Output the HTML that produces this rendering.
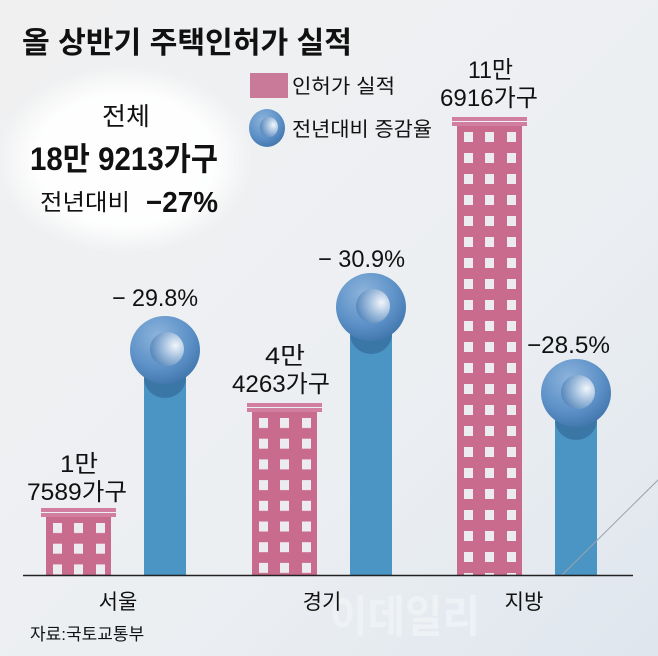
<!DOCTYPE html>
<html><head><meta charset="utf-8"><style>
html,body{margin:0;padding:0}
body{width:658px;height:656px;overflow:hidden;background:#eef0f2}
svg{display:block}
text{font-family:"Liberation Sans","Noto Sans CJK KR",sans-serif;fill:#111}
</style></head><body>
<svg width="658" height="656" viewBox="0 0 658 656" xmlns="http://www.w3.org/2000/svg">
<defs>
<linearGradient id="bg" x1="0" y1="0" x2="1" y2="1">
<stop offset="0" stop-color="#f0f0f1"/><stop offset="0.6" stop-color="#eceff2"/><stop offset="1" stop-color="#dfe6ee"/>
</linearGradient>
<radialGradient id="glow" cx="0.5" cy="0.5" r="0.5">
<stop offset="0" stop-color="#fff"/><stop offset="0.7" stop-color="#fff" stop-opacity="0.9"/><stop offset="1" stop-color="#fff" stop-opacity="0"/>
</radialGradient>
<radialGradient id="ring" cx="0.4" cy="0.3" r="0.75">
<stop offset="0" stop-color="#8db4dc"/><stop offset="0.6" stop-color="#5e92c8"/><stop offset="1" stop-color="#3f74aa"/>
</radialGradient>
<radialGradient id="inner" cx="0.75" cy="0.4" r="0.8">
<stop offset="0" stop-color="#f2f6fb"/><stop offset="0.45" stop-color="#a4c0de"/><stop offset="1" stop-color="#4f82b8"/>
</radialGradient>
<pattern id="w1" patternUnits="userSpaceOnUse" x="46" y="523" width="65" height="20.7"><rect x="7" y="0" width="9" height="10" fill="#ecebef"/><rect x="28" y="0" width="9" height="10" fill="#ecebef"/><rect x="50" y="0" width="9" height="10" fill="#ecebef"/></pattern>
<pattern id="w2" patternUnits="userSpaceOnUse" x="252" y="418" width="65" height="20.7"><rect x="7" y="0" width="9" height="10" fill="#ecebef"/><rect x="28" y="0" width="9" height="10" fill="#ecebef"/><rect x="50" y="0" width="9" height="10" fill="#ecebef"/></pattern>
<pattern id="w3" patternUnits="userSpaceOnUse" x="457" y="132" width="65" height="21" ><rect x="7" y="0" width="9" height="10" fill="#ecebef"/><rect x="28" y="0" width="9" height="10" fill="#ecebef"/><rect x="50" y="0" width="9" height="10" fill="#ecebef"/></pattern>
</defs>
<rect width="658" height="656" fill="url(#bg)"/>
<ellipse cx="125" cy="160" rx="130" ry="95" fill="url(#glow)"/>
<text x="330" y="632" font-size="44" font-weight="bold" style="fill:#f3f5f8" opacity="0.7" textLength="150" lengthAdjust="spacingAndGlyphs">이데일리</text>

<text x="22" y="53" font-size="30" font-weight="bold" textLength="330" lengthAdjust="spacingAndGlyphs">올 상반기 주택인허가 실적</text>

<rect x="250" y="73" width="38" height="25" fill="#c97a98"/>
<text x="292" y="93" font-size="20" textLength="103" lengthAdjust="spacingAndGlyphs">인허가 실적</text>
<ellipse cx="267" cy="128" rx="18" ry="19" fill="url(#ring)"/>
<ellipse cx="269" cy="127" rx="9" ry="10" fill="url(#inner)"/>
<text x="292" y="136" font-size="20" textLength="140" lengthAdjust="spacingAndGlyphs">전년대비 증감율</text>

<text x="102" y="125" font-size="25" textLength="48" lengthAdjust="spacingAndGlyphs">전체</text>
<text x="30" y="170" font-size="32" font-weight="bold" textLength="188" lengthAdjust="spacingAndGlyphs">18만 9213가구</text>
<text x="40" y="210" font-size="23" textLength="90" lengthAdjust="spacingAndGlyphs">전년대비</text>
<text x="146" y="212" font-size="29" font-weight="bold" textLength="72" lengthAdjust="spacingAndGlyphs">−27%</text>

<!-- Seoul -->
<rect x="41" y="508" width="75" height="4" fill="#d17ea0"/>
<rect x="41" y="513" width="75" height="4" fill="#d17ea0"/>
<rect x="46" y="517" width="65" height="58" fill="#c96b8d"/>
<rect x="46" y="517" width="65" height="58" fill="url(#w1)"/>
<text x="60" y="472" font-size="24" textLength="38" lengthAdjust="spacingAndGlyphs">1만</text>
<text x="27" y="500" font-size="24" textLength="100" lengthAdjust="spacingAndGlyphs">7589가구</text>
<rect x="144" y="360" width="42" height="215" fill="#4a95c4"/>
<ellipse cx="165" cy="378" rx="21" ry="20" fill="#3b77a6"/>
<ellipse cx="165" cy="350" rx="35" ry="34" fill="url(#ring)"/>
<ellipse cx="167" cy="349" rx="17" ry="17" fill="url(#inner)"/>
<text x="112" y="306" font-size="24" textLength="86" lengthAdjust="spacingAndGlyphs">− 29.8%</text>

<!-- Gyeonggi -->
<rect x="247" y="403" width="75" height="4" fill="#d17ea0"/>
<rect x="247" y="408" width="75" height="4" fill="#d17ea0"/>
<rect x="252" y="412" width="65" height="163" fill="#c96b8d"/>
<rect x="252" y="412" width="65" height="163" fill="url(#w2)"/>
<text x="265" y="364" font-size="24" textLength="40" lengthAdjust="spacingAndGlyphs">4만</text>
<text x="232" y="392" font-size="24" textLength="98" lengthAdjust="spacingAndGlyphs">4263가구</text>
<rect x="350" y="315" width="42" height="260" fill="#4a95c4"/>
<ellipse cx="371" cy="334" rx="21" ry="20" fill="#3b77a6"/>
<ellipse cx="371" cy="307" rx="35" ry="34" fill="url(#ring)"/>
<ellipse cx="373" cy="306" rx="17" ry="17" fill="url(#inner)"/>
<text x="318" y="267" font-size="24" textLength="87" lengthAdjust="spacingAndGlyphs">− 30.9%</text>

<!-- Jibang -->
<rect x="452" y="117" width="75" height="4" fill="#d17ea0"/>
<rect x="452" y="122" width="75" height="4" fill="#d17ea0"/>
<rect x="457" y="126" width="65" height="449" fill="#c96b8d"/>
<rect x="457" y="126" width="65" height="449" fill="url(#w3)"/>
<text x="468" y="78" font-size="24" textLength="45" lengthAdjust="spacingAndGlyphs">11만</text>
<text x="440" y="106" font-size="24" textLength="98" lengthAdjust="spacingAndGlyphs">6916가구</text>
<rect x="555" y="410" width="42" height="165" fill="#4a95c4"/>
<ellipse cx="576" cy="420" rx="21" ry="20" fill="#3b77a6"/>
<ellipse cx="576" cy="393" rx="35" ry="34" fill="url(#ring)"/>
<ellipse cx="578" cy="392" rx="17" ry="17" fill="url(#inner)"/>
<text x="527" y="353" font-size="24" textLength="83" lengthAdjust="spacingAndGlyphs">−28.5%</text>

<line x1="562" y1="575" x2="658" y2="480" stroke="#9aa3ad" stroke-width="1"/>
<line x1="23" y1="575.5" x2="633" y2="575.5" stroke="#222" stroke-width="1.5"/>

<text x="118" y="609" font-size="21" text-anchor="middle">서울</text>
<text x="322" y="609" font-size="21" text-anchor="middle">경기</text>
<text x="524" y="609" font-size="21" text-anchor="middle">지방</text>
<text x="30" y="640" font-size="17">자료:국토교통부</text>
</svg>
</body></html>
